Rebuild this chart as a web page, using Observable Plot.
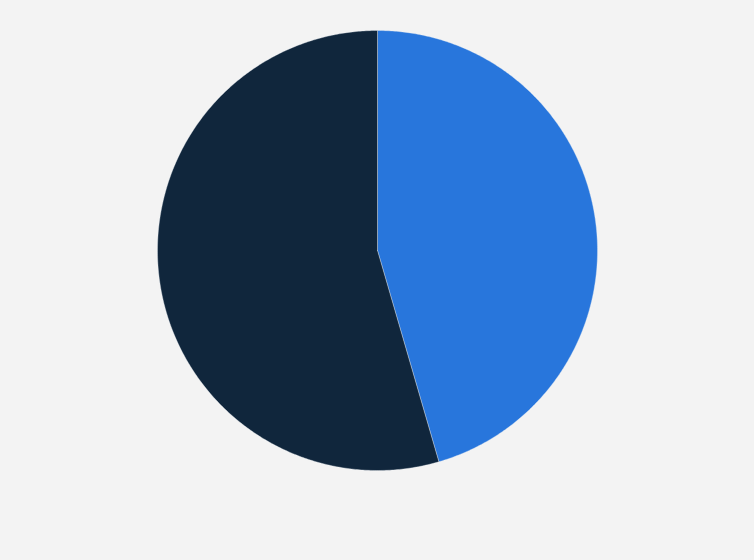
<!DOCTYPE html>
<html>
<head>
<meta charset="utf-8">
<script src="https://cdn.jsdelivr.net/npm/d3@7"></script>
<script src="https://cdn.jsdelivr.net/npm/@observablehq/plot@0.6"></script>
<style>
  html, body { margin: 0; padding: 0; background: #f3f3f3; }
  #chart { width: 754px; height: 560px; }
</style>
</head>
<body>
<div id="chart"></div>
<script>
const categories = ["Blue share", "Dark share"];
const values = [45.5, 54.5];
const colors = ["#2876dc", "#10263c"];

const pie = d3.pie().sort(null).value(d => d.value);
const arcs = pie(categories.map((c, i) => ({category: c, value: values[i]})));

// Build polygon outlines for each slice (angles from d3.pie, clockwise from 12 o'clock)
const pts = [];
arcs.forEach(a => {
  const steps = Math.max(2, Math.ceil((a.endAngle - a.startAngle) / (Math.PI / 360)));
  pts.push({category: a.data.category, x: 0, y: 0});
  for (let k = 0; k <= steps; k++) {
    const t = a.startAngle + (a.endAngle - a.startAngle) * k / steps;
    pts.push({category: a.data.category, x: Math.sin(t), y: Math.cos(t)});
  }
  pts.push({category: a.data.category, x: 0, y: 0});
});

const chart = Plot.plot({
  width: 754,
  height: 560,
  marginLeft: 157,
  marginRight: 157,
  marginTop: 30,
  marginBottom: 90,
  style: {background: "#f3f3f3"},
  x: {domain: [-1, 1], axis: null},
  y: {domain: [-1, 1], axis: null},
  color: {domain: categories, range: colors},
  marks: [
    Plot.line(pts, {
      x: "x", y: "y", z: "category",
      fill: "category",
      stroke: "#e8eef5",
      strokeWidth: 0.6,
      strokeOpacity: 0.6,
      curve: "linear"
    })
  ]
});
document.getElementById("chart").appendChild(chart);
</script>
</body>
</html>
